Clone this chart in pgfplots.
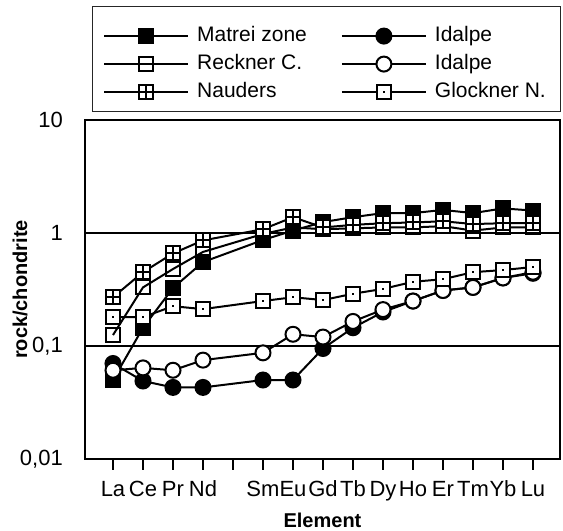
\documentclass[border=0pt]{standalone}
\usepackage{pgfplots}
\pgfplotsset{compat=1.18}
\usepackage{fontspec}
\setmainfont{Liberation Sans}

\pgfdeclareplotmark{boxplus}{%
  \pgfpathrectangle{\pgfqpoint{-\pgfplotmarksize}{-\pgfplotmarksize}}{\pgfqpoint{2\pgfplotmarksize}{2\pgfplotmarksize}}%
  \pgfusepathqfillstroke
  \pgfpathmoveto{\pgfqpoint{-\pgfplotmarksize}{0pt}}%
  \pgfpathlineto{\pgfqpoint{\pgfplotmarksize}{0pt}}%
  \pgfpathmoveto{\pgfqpoint{0pt}{-\pgfplotmarksize}}%
  \pgfpathlineto{\pgfqpoint{0pt}{\pgfplotmarksize}}%
  \pgfusepathqstroke
}
\pgfdeclareplotmark{boxdot}{%
  \pgfpathrectangle{\pgfqpoint{-\pgfplotmarksize}{-\pgfplotmarksize}}{\pgfqpoint{2\pgfplotmarksize}{2\pgfplotmarksize}}%
  \pgfusepathqfillstroke
  \begin{pgfscope}%
  \pgfsetfillcolor{black}%
  \pgfpathrectangle{\pgfqpoint{-1.2pt}{-1.2pt}}{\pgfqpoint{2.4pt}{2.4pt}}%
  \pgfusepathqfill
  \end{pgfscope}%
}

\begin{document}
\begin{tikzpicture}
\begin{axis}[
  at={(0pt,0pt)}, anchor=south west,
  scale only axis, width=475pt, height=339pt,
  xmin=-0.933, xmax=14.9,
  ymode=log, ymin=0.01, ymax=10,
  xtick={0,...,14},
  xticklabels={La,Ce,Pr,Nd,,Sm,Eu,Gd,Tb,Dy,Ho,Er,Tm,Yb,Lu},
  ytick={0.01,0.1,1,10},
  yticklabels={{0,01},{0,1},1,10},
  minor ytick={},
  xtick pos=bottom, ytick pos=left,
  tick align=outside,
  major tick length=11pt,
  every tick/.style={black, line width=1.5pt},
  ytick style={draw=none},
  ymajorgrids,
  grid style={black, line width=1.5pt},
  axis line style={line width=2.5pt},
  ticklabel style={font=\fontsize{22}{26}\selectfont},
  yticklabel style={inner sep=0pt, xshift=-11pt},
  xticklabel style={inner sep=0pt, text height=16pt, text depth=5pt, yshift=-10pt},
  xlabel={Element},
  ylabel={rock/chondrite},
  label style={font=\bfseries\fontsize{20}{24}\selectfont},
  xlabel style={at={(axis description cs:0.5,-0.18)}, anchor=center},
  ylabel style={at={(axis description cs:-0.1368,0.5)}, anchor=center},
  legend columns=2,
  legend cell align=left,
  legend style={draw=none, fill=none, inner sep=0pt,
    at={(0.0379,1.165)}, anchor=west,
    font=\fontsize{21}{25}\selectfont,
    nodes={inner sep=0pt, text height=15pt, text depth=4.5pt},
    row sep=8.5pt,
    /tikz/every odd column/.append style={column sep=8pt},
    /tikz/every even column/.append style={column sep=34pt}},
  legend image code/.code={\draw[mark repeat=2,mark phase=2,#1] plot coordinates {(0pt,0pt) (42pt,0pt) (84pt,0pt)};},
  every axis plot/.append style={line width=2pt, black},
]
% Matrei zone
\addplot[mark=square*, mark size=7pt, mark options={fill=black}] coordinates {
(0,0.050) (1,0.145) (2,0.326) (3,0.553) (5,0.867) (6,1.05) (7,1.25) (8,1.38) (9,1.5) (10,1.5) (11,1.6) (12,1.5) (13,1.65) (14,1.58)};
\addlegendentry{Matrei zone}
% Idalpe filled
\addplot[mark=*, mark size=7.5pt, mark options={fill=black}] coordinates {
(0,0.07) (1,0.049) (2,0.043) (3,0.043) (5,0.05) (6,0.05) (7,0.095) (8,0.145) (9,0.2) (10,0.25) (11,0.31) (12,0.33) (13,0.4) (14,0.44)};
\addlegendentry{Idalpe}
% Reckner C.
\addplot[mark=square, mark size=7pt] coordinates {
(0,0.125) (1,0.33) (2,0.48) (3,0.68) (5,0.98) (6,1.12) (7,1.08) (8,1.1) (9,1.12) (10,1.12) (11,1.15) (12,1.05) (13,1.12) (14,1.12)};
\addlegendentry{Reckner C.}
% Idalpe open
\addplot[mark=*, mark size=7.5pt, mark options={fill=white}] coordinates {
(0,0.061) (1,0.064) (2,0.061) (3,0.075) (5,0.087) (6,0.127) (7,0.12) (8,0.165) (9,0.21) (10,0.25) (11,0.31) (12,0.33) (13,0.4) (14,0.45)};
\addlegendentry{Idalpe}
% Nauders
\addplot[mark=boxplus, mark size=7pt, mark options={fill=white}] coordinates {
(0,0.27) (1,0.45) (2,0.66) (3,0.86) (5,1.08) (6,1.38) (7,1.12) (8,1.18) (9,1.22) (10,1.24) (11,1.27) (12,1.2) (13,1.22) (14,1.22)};
\addlegendentry{Nauders}
% Glockner N.
\addplot[mark=boxdot, mark size=7pt, mark options={fill=white}] coordinates {
(0,0.18) (1,0.18) (2,0.225) (3,0.212) (5,0.25) (6,0.27) (7,0.255) (8,0.29) (9,0.32) (10,0.37) (11,0.39) (12,0.45) (13,0.47) (14,0.5)};
\addlegendentry{Glockner N.}
\end{axis}
\draw[line width=1pt, black!85] (8pt,347pt) rectangle (475pt,452pt);
\path[use as bounding box] (-85pt,-71pt) rectangle (478pt,459pt);
\end{tikzpicture}
\end{document}
